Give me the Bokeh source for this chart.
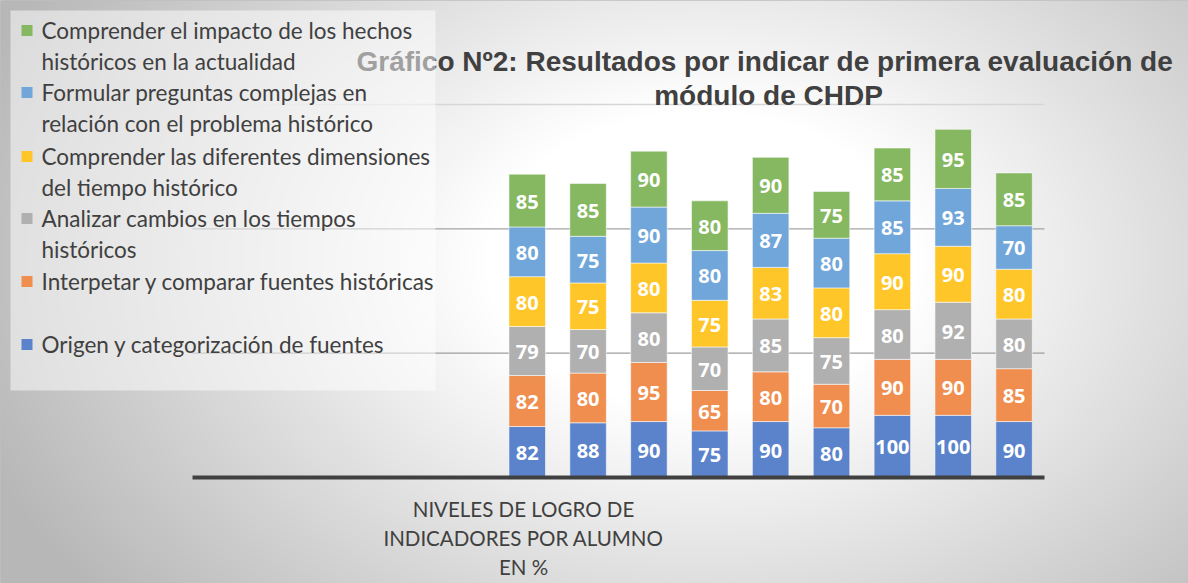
import numpy as np
from bokeh.plotting import figure
from bokeh.models import ColumnDataSource, LabelSet, Label, BoxAnnotation, Range1d
from bokeh.core.properties import value
from bokeh.embed import file_html
from bokeh.resources import INLINE

# ---------------- data ----------------
legend_lines = [
    ["Origen y categorización de fuentes"],
    ["Interpetar y comparar fuentes históricas"],
    ["Analizar cambios en los tiempos", "históricos"],
    ["Comprender las diferentes dimensiones", "del tiempo histórico"],
    ["Formular preguntas complejas en", "relación con el problema histórico"],
    ["Comprender el impacto de los hechos", "históricos  en la actualidad"],
]
colors = ["#5B83CB", "#EF8E4F", "#B0B0B0", "#FFC629", "#70A6DA", "#86B862"]

origen = [82, 88, 90, 75, 90, 80, 100, 100, 90]
interpretar = [82, 80, 95, 65, 80, 70, 90, 90, 85]
analizar = [79, 70, 80, 70, 85, 75, 80, 92, 80]
dimensiones = [80, 75, 80, 75, 83, 80, 90, 90, 80]
formular = [80, 75, 90, 80, 87, 80, 85, 93, 70]
impacto = [85, 85, 90, 80, 90, 75, 85, 95, 85]
series_values = [origen, interpretar, analizar, dimensiones, formular, impacto]

n_slots = 14          # category slots on the x axis (first ones empty)
first_slot = 5
grid_values = [200, 400, 600]
grid_colors = ["#9E9E9E", "#A3A3A3", "#D6D6D6"]

title_lines = ["Gráfico Nº2:  Resultados por indicar de primera evaluación de",
               "módulo de CHDP"]
xtitle_lines = ["NIVELES DE LOGRO DE", "INDICADORES POR ALUMNO", "EN %"]

# ---------------- layout (page pixels) ----------------
W, H = 1188, 583
OX, OY = 0, 0                 # page offset of the figure
PX0, PX1 = 192, 1044          # plot area left / right (page px)
PY0, PY600 = 477, 104         # page y of value 0 and 600

ppx = (PX1 - PX0) / n_slots
ppy = (PY0 - PY600) / 600.0
x_start = -(PX0 - OX) / ppx
x_end = n_slots + (OX + W - PX1) / ppx
y_start = -(OY + H - PY0) / ppy
y_end = 600 + (PY600 - OY) / ppy

p = figure(width=W, height=H, output_backend="svg", toolbar_location=None,
           x_range=Range1d(x_start, x_end), y_range=Range1d(y_start, y_end),
           min_border=0)
p.axis.visible = False
p.grid.visible = False
p.outline_line_color = "#BFBFBF"
p.background_fill_color = "white"
p.border_fill_color = "white"

# ---------------- radial gradient background ----------------
yy, xx = np.mgrid[0:H, 0:W]
pxg = xx + OX
pyg = (H - 1 - yy) + OY      # row 0 = bottom
d = np.sqrt(((pxg - 700) / 620.0) ** 2 + ((pyg - 260) / 430.0) ** 2)
t = np.clip((d - 0.35) / 0.9, 0, 1)
g = (255 - 72 * t).astype(np.uint32)
img = (255 << 24) | (g << 16) | (g << 8) | g
p.image_rgba(image=[img.astype(np.uint32)], x=x_start, y=y_start,
             dw=x_end - x_start, dh=y_end - y_start, level="image")

# ---------------- grid lines ----------------
p.segment(x0=[0] * len(grid_values), x1=[n_slots] * len(grid_values),
          y0=grid_values, y1=grid_values, line_color=grid_colors,
          line_width=1.3, level="underlay")

# ---------------- stacked bars ----------------
xs = [first_slot + 0.5 + i for i in range(len(origen))]
keys = [f"s{i}" for i in range(len(series_values))]
data = {"x": xs}
for k, v in zip(keys, series_values):
    data[k] = v
src = ColumnDataSource(data)
p.vbar_stack(keys, x="x", width=0.6, source=src, color=colors,
             line_color="white", line_alpha=0.55, line_width=1)

lx, ly, lt = [], [], []
cum = np.zeros(len(xs))
for v in series_values:
    v = np.array(v, dtype=float)
    mid = cum + v / 2
    lx += xs
    ly += list(mid)
    lt += [str(int(a)) for a in v]
    cum += v
lab_src = ColumnDataSource(dict(x=lx, y=ly, t=lt))
p.add_layout(LabelSet(x="x", y="y", text="t", source=lab_src,
                      text_align="center", text_baseline="middle",
                      text_color="white", text_font=value("Open Sans"),
                      text_font_style="bold", text_font_size="20px",
                      y_offset=-1))

# x axis line
p.segment(x0=[0], x1=[n_slots], y0=[0], y1=[0], line_color="#404040",
          line_width=4)


def sx(px):
    return px - OX


def sy(py):
    return H - (py - OY)


# ---------------- title ----------------
for i, line in enumerate(title_lines):
    p.add_layout(Label(x=sx(768), y=sy(61 + 34 * i), x_units="screen",
                       y_units="screen", text=line, text_align="center",
                       text_baseline="middle", text_font="Liberation Sans",
                       text_font_style="bold", text_font_size="28px",
                       text_color="#404040"))

# ---------------- legend ----------------
p.add_layout(BoxAnnotation(left=sx(10), right=sx(435), top=sy(10),
                           bottom=sy(390), left_units="screen",
                           right_units="screen", top_units="screen",
                           bottom_units="screen", fill_color="white",
                           fill_alpha=0.5, line_alpha=0, level="annotation"))

legend_y = [344, 281, 218, 156, 92, 30]
for lines, col, y0 in zip(legend_lines, colors, legend_y):
    p.add_layout(BoxAnnotation(left=sx(21), right=sx(32), top=sy(y0 - 5.5),
                               bottom=sy(y0 + 5.5), left_units="screen",
                               right_units="screen", top_units="screen",
                               bottom_units="screen", fill_color=col,
                               fill_alpha=1, line_alpha=0,
                               level="annotation"))
    for j, line in enumerate(lines):
        p.add_layout(Label(x=sx(41), y=sy(y0 + 30.5 * j), x_units="screen",
                           y_units="screen", text=line, text_align="left",
                           text_baseline="middle", text_font="Lato",
                           text_font_size="22.5px", text_color="#404040"))

# ---------------- x title ----------------
for i, line in enumerate(xtitle_lines):
    p.add_layout(Label(x=sx(523), y=sy(508 + 29 * i), x_units="screen",
                       y_units="screen", text=line, text_align="center",
                       text_baseline="middle", text_font="Lato",
                       text_font_size="20.5px", text_color="#404040"))

open("out.html", "w").write(file_html(p, INLINE))
